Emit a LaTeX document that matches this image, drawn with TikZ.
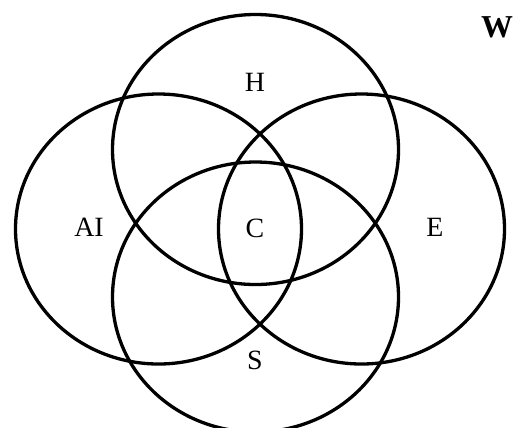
\documentclass[tikz,border=0pt]{standalone}
\usepackage{fontspec}
\setmainfont{Liberation Serif}
\usepackage{tikz}
\usetikzlibrary{positioning}
\begin{document}
\begin{tikzpicture}[x=1bp,y=-1bp,line width=3.3bp,
  setlabel/.style={font=\fontsize{28}{30}\selectfont,inner sep=0pt}]
\useasboundingbox (0,0) rectangle (526,427);
% four overlapping sets: H (top), AI (left), E (right), S (bottom)
\foreach \cx/\cy in {255.5/149.5, 158.5/229, 361.5/229, 255.5/297}{
\draw (\cx,\cy) ellipse [x radius=143, y radius=135];
}
\node[setlabel] (h) at (255,82) {H};
\node[setlabel] (ai) at (89,227) {AI};
\node[setlabel] (c) at (255,228) {C};
\node[setlabel] (e) at (435,227) {E};
\node[setlabel] (s) at (255,360) {S};
\node[font=\bfseries\fontsize{32}{34}\selectfont,inner sep=0pt] (w) at (497,27) {W};
\end{tikzpicture}
\end{document}
